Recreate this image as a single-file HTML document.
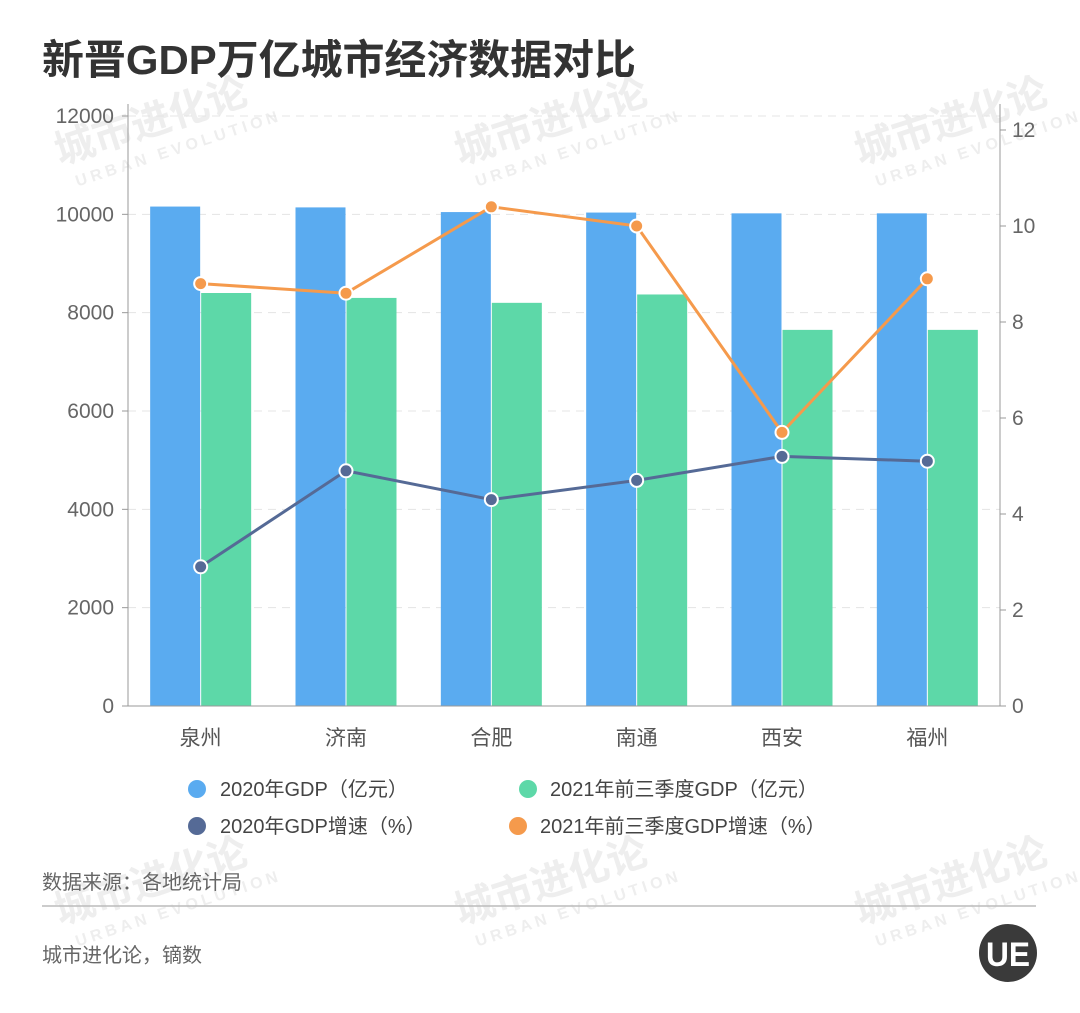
<!DOCTYPE html>
<html><head><meta charset="utf-8"><style>
body{margin:0;background:#fff;width:1080px;height:1008px;overflow:hidden;font-family:"Liberation Sans","Noto Sans CJK SC",sans-serif;}
</style></head><body>
<svg width="1080" height="1008" xmlns="http://www.w3.org/2000/svg" style="font-family:'Liberation Sans','Noto Sans CJK SC',sans-serif">
<g id="wm" fill="#eeeeee" font-weight="bold"></g>
<text x="42" y="74" font-size="41" font-weight="bold" fill="#333" textLength="594" lengthAdjust="spacingAndGlyphs">新晋GDP万亿城市经济数据对比</text>
<g id="grid"></g><g id="bars"></g><g id="lines"></g><g id="axes"></g>
<g font-size="20" fill="#444">
<circle cx="197" cy="789" r="9" fill="#5aabf0"/><text x="220" y="796">2020年GDP（亿元）</text>
<circle cx="528" cy="789" r="9" fill="#5dd8a8"/><text x="550" y="796">2021年前三季度GDP（亿元）</text>
<circle cx="197" cy="826" r="9" fill="#556a96"/><text x="220" y="833">2020年GDP增速（%）</text>
<circle cx="518" cy="826" r="9" fill="#f59a4c"/><text x="540" y="833">2021年前三季度GDP增速（%）</text>
</g>
<text x="42" y="889" font-size="20" fill="#666">数据来源：各地统计局</text>
<line x1="42" y1="906" x2="1036" y2="906" stroke="#bbb" stroke-width="1.5"/>
<text x="42" y="962" font-size="20" fill="#666">城市进化论，镝数</text>
<g><circle cx="1008" cy="953" r="29" fill="#3a3a3a"/><text x="1008" y="966" font-size="34" font-weight="bold" fill="#fff" text-anchor="middle" textLength="44" lengthAdjust="spacingAndGlyphs">UE</text></g>
</svg>
<script>
const categories=["泉州","济南","合肥","南通","西安","福州"];
const gdp2020=[10158,10141,10046,10036,10020,10020];
const gdp2021q3=[8400,8300,8200,8370,7650,7650];
const growth2020=[2.9,4.9,4.3,4.7,5.2,5.1];
const growth2021=[8.8,8.6,10.4,10.0,5.7,8.9];
const leftTicks=[0,2000,4000,6000,8000,10000,12000];
const rightTicks=[0,2,4,6,8,10,12];
const NS="http://www.w3.org/2000/svg";
const X0=128,X1=1000,Y0=706;
const yL=v=>Y0-v*(590/12000);
const yR=v=>Y0-v*(576/12);
const band=(X1-X0)/categories.length;
const xc=i=>X0+band*(i+0.5);
function mk(t,a,p){const e=document.createElementNS(NS,t);for(const k in a)e.setAttribute(k,a[k]);p.appendChild(e);return e;}
const grid=document.getElementById('grid'),bars=document.getElementById('bars'),lines=document.getElementById('lines'),axes=document.getElementById('axes'),wm=document.getElementById('wm');
[[60,165],[460,165],[860,165],[60,925],[460,925],[860,925]].forEach(p=>{
 const g=mk('g',{transform:`translate(${p[0]},${p[1]}) rotate(-18)`},wm);
 const t1=mk('text',{x:0,y:0,'font-size':40},g);t1.textContent='城市进化论';
 const t2=mk('text',{x:10,y:26,'font-size':16,'letter-spacing':4},g);t2.textContent='URBAN EVOLUTION';
});
leftTicks.forEach(v=>{
 if(v>0){const l=mk('line',{x1:X0,x2:X1,y1:yL(v),y2:yL(v),stroke:'#e4e4e4','stroke-dasharray':'8,6'},grid);
 }
 const t=mk('text',{x:114,y:yL(v)+7,'font-size':21,fill:'#666','text-anchor':'end'},axes);t.textContent=v;
 
 mk('line',{x1:122,x2:X0,y1:yL(v),y2:yL(v),stroke:'#999'},axes);
});
rightTicks.forEach(v=>{
 const t=mk('text',{x:1012,y:yR(v)+7,'font-size':21,fill:'#666'},axes);t.textContent=v;
 
 mk('line',{x1:X1,x2:X1+6,y1:yR(v),y2:yR(v),stroke:'#999'},axes);
});
mk('line',{x1:X0,x2:X0,y1:104,y2:Y0,stroke:'#999'},axes);
mk('line',{x1:X1,x2:X1,y1:104,y2:Y0,stroke:'#999'},axes);
mk('line',{x1:X0,x2:X1,y1:Y0,y2:Y0,stroke:'#999'},axes);
const bw=50;
categories.forEach((c,i)=>{
 const b1=mk('rect',{x:xc(i)-bw-0.5,y:yL(gdp2020[i]),width:bw,height:Y0-yL(gdp2020[i]),fill:'#5aabf0'},bars);
 
 const b2=mk('rect',{x:xc(i)+0.5,y:yL(gdp2021q3[i]),width:bw,height:Y0-yL(gdp2021q3[i]),fill:'#5dd8a8'},bars);
 
 const t=mk('text',{x:xc(i),y:745,'font-size':21,fill:'#555','text-anchor':'middle'},axes);t.textContent=c;
 
});
function series(arr,color,name){
 const p=mk('polyline',{points:arr.map((v,i)=>xc(i)+','+yR(v)).join(' '),fill:'none',stroke:color,'stroke-width':3},lines);
 
 arr.forEach((v,i)=>{const d=mk('circle',{cx:xc(i),cy:yR(v),r:6.5,fill:color,stroke:'#fff','stroke-width':2},lines);
 });
}
series(growth2020,'#556a96','growth-2020');
series(growth2021,'#f59a4c','growth-2021');
</script>
</body></html>
